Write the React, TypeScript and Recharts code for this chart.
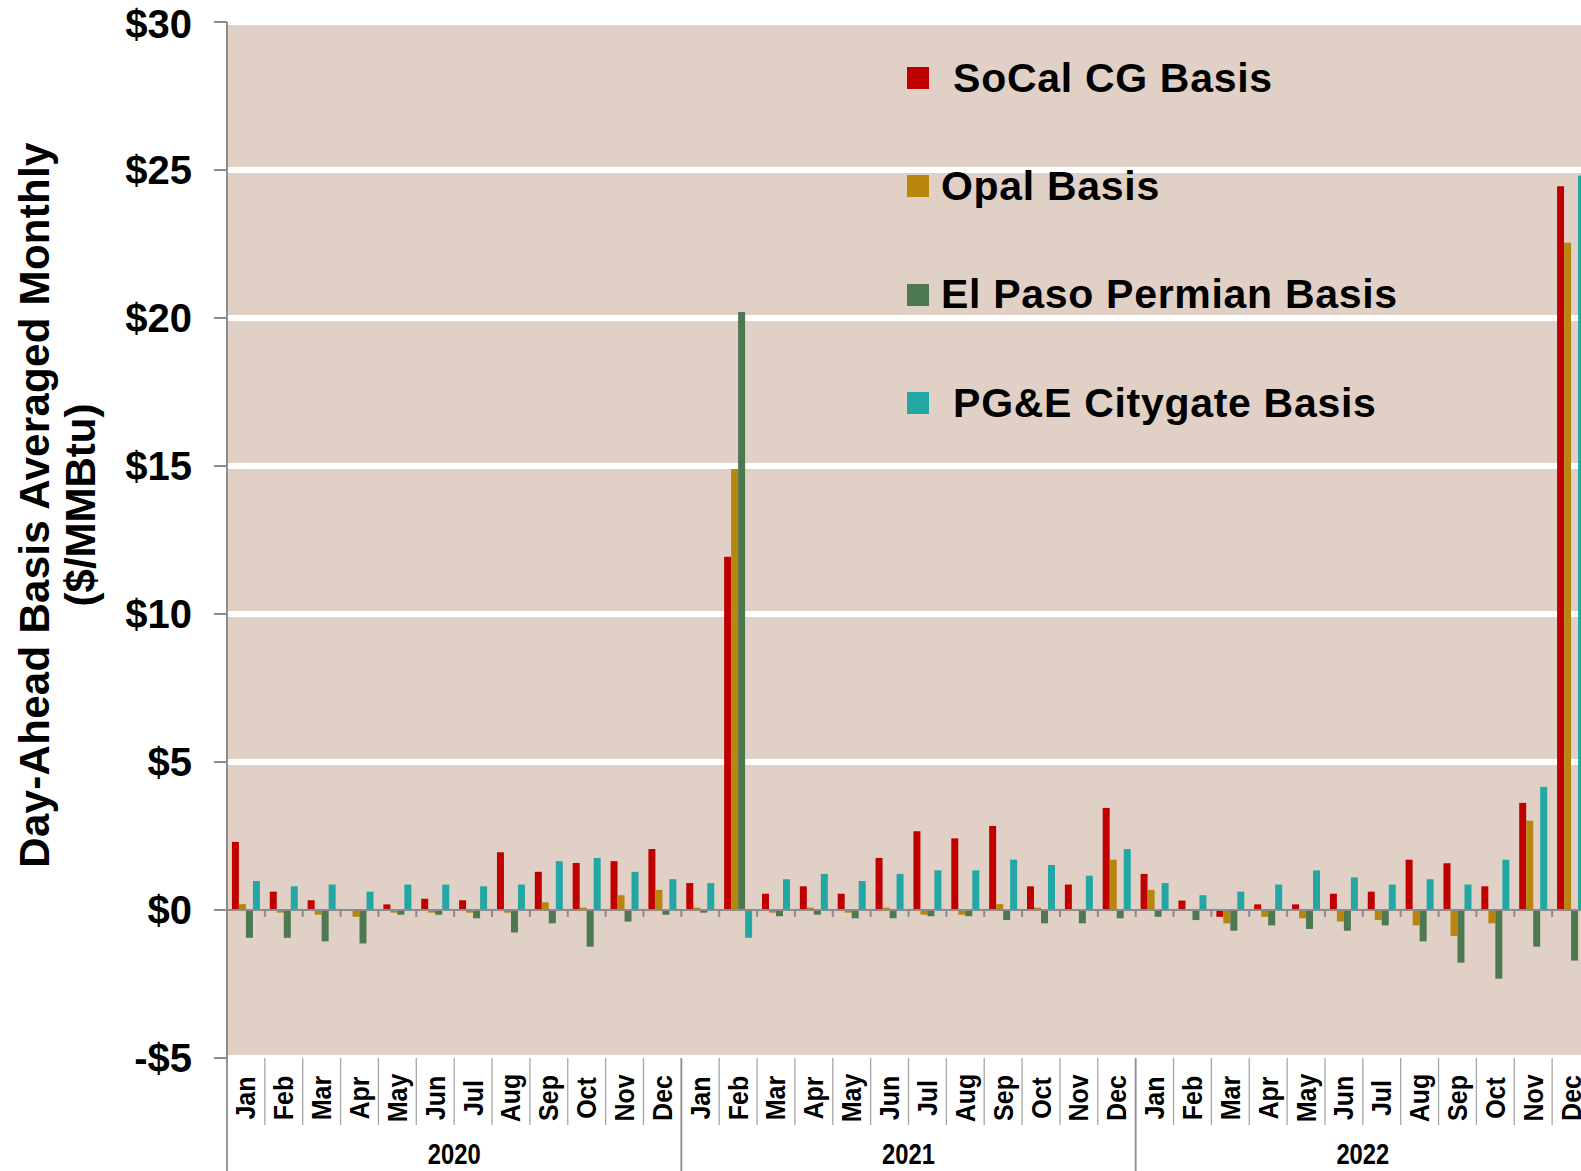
import { Bar, BarChart, CartesianGrid, Legend, ReferenceLine, XAxis, YAxis } from "recharts";

const monthNames = ["Jan", "Feb", "Mar", "Apr", "May", "Jun", "Jul", "Aug", "Sep", "Oct", "Nov", "Dec"];
const years = ["2020", "2021", "2022"];
const seriesNames = [" SoCal CG Basis", "Opal Basis", "El Paso Permian Basis", " PG&E Citygate Basis"];

// monthly averages, $/MMBtu (Jan 2020 .. Dec 2022)
const socal = [
  2.3, 0.62, 0.33, 0.03, 0.19, 0.38, 0.33, 1.95, 1.29, 1.59, 1.65, 2.06,
  0.91, 11.93, 0.55, 0.8, 0.55, 1.76, 2.66, 2.42, 2.84, 0.8, 0.86, 3.45,
  1.22, 0.32, -0.23, 0.19, 0.19, 0.55, 0.62, 1.7, 1.58, 0.8, 3.62, 24.45
];
const opal = [
  0.2, -0.09, -0.16, -0.23, -0.09, -0.09, -0.09, -0.09, 0.26, 0.08, 0.5, 0.68,
  0.08, 14.9, -0.09, 0.08, -0.09, 0.08, -0.16, -0.16, 0.2, 0.08, 0.03, 1.7,
  0.68, 0.02, -0.45, -0.23, -0.28, -0.39, -0.34, -0.52, -0.88, -0.45, 3.02, 22.54
];
const elPaso = [
  -0.94, -0.94, -1.06, -1.13, -0.16, -0.16, -0.28, -0.76, -0.45, -1.24, -0.39, -0.16,
  -0.09, 20.2, -0.21, -0.16, -0.28, -0.28, -0.21, -0.21, -0.34, -0.45, -0.45, -0.28,
  -0.23, -0.34, -0.7, -0.52, -0.64, -0.7, -0.52, -1.06, -1.78, -2.32, -1.24, -1.71
];
const pge = [
  0.98, 0.8, 0.86, 0.62, 0.86, 0.86, 0.8, 0.86, 1.65, 1.76, 1.29, 1.04,
  0.91, -0.94, 1.04, 1.22, 0.98, 1.22, 1.34, 1.34, 1.7, 1.52, 1.16, 2.06,
  0.91, 0.5, 0.62, 0.86, 1.34, 1.1, 0.86, 1.04, 0.86, 1.7, 4.16, 24.81
];

const yTicks = [-5, 0, 5, 10, 15, 20, 25, 30];

const data = years.flatMap((year, yi) =>
  monthNames.map((month, mi) => {
    const i = yi * 12 + mi;
    return { key: `${month} ${year}`, month, year, socal: socal[i], opal: opal[i], elPaso: elPaso[i], pge: pge[i] };
  })
);

const FONT = '"Liberation Sans", Arial, sans-serif';
const AXIS_GREY = "#8c8c8c";
const SEP_GREY = "#a6a6a6";
const colors = { socal: "#c00000", opal: "#b8860f", elPaso: "#4d7850", pge: "#22a7a4" };

const W = 1600;
const H = 1171;

const money = (v: number) => (v < 0 ? `-$${-v}` : `$${v}`);

function MonthTick(props: any) {
  const { x, y, payload, index } = props;
  const i = payload?.index ?? index;
  const half = payload?.offset ?? 18.9;
  const left = x - half;
  const row = data[i];
  const yearStart = i % 12 === 0;
  const last = i === data.length - 1;
  return (
    <g>
      <line x1={left} x2={left} y1={y} y2={yearStart ? y + 113 : y + 67} stroke={yearStart ? AXIS_GREY : SEP_GREY} strokeWidth={yearStart ? 1.8 : 1.3} />
      {last && <line x1={x + half} x2={x + half} y1={y} y2={y + 113} stroke={AXIS_GREY} strokeWidth={1.8} />}
      <text
        transform={`translate(${x},${y + 40}) rotate(-90) scale(1,1.12)`}
        textAnchor="middle"
        dominantBaseline="central"
        fontFamily={FONT}
        fontWeight={700}
        fontSize={25}
        fill="#000"
      >
        {row.month}
      </text>
      {yearStart && (
        <text
          transform={`translate(${left + half * 12},${y + 96}) scale(0.82,1)`}
          textAnchor="middle"
          dominantBaseline="central"
          fontFamily={FONT}
          fontWeight={700}
          fontSize={29}
          fill="#000"
        >
          {row.year}
        </text>
      )}
    </g>
  );
}

function ZeroAxis(p: any) {
  const { x1, x2, y1 } = p;
  const step = (x2 - x1) / data.length;
  return (
    <g>
      <line x1={x1} x2={x2} y1={y1} y2={y1} stroke={AXIS_GREY} strokeWidth={2} />
      {data.map((d, i) =>
        i > 0 ? <line key={d.key} x1={x1 + i * step} x2={x1 + i * step} y1={y1} y2={y1 + 7} stroke={AXIS_GREY} strokeWidth={2} /> : null
      )}
    </g>
  );
}

function YTitle(p: any) {
  const vb = p?.viewBox ?? { x: 0, y: 22, width: 227, height: 1036 };
  const cy = vb.y + vb.height / 2 - 35;
  const common = { fontFamily: FONT, fontWeight: 700, fontSize: 42, fill: "#000", textAnchor: "middle" as const, dominantBaseline: "central" as const };
  return (
    <g>
      <text transform={`translate(34,${cy}) rotate(-90)`} {...common} letterSpacing={0.3}>
        Day-Ahead Basis Averaged Monthly
      </text>
      <text transform={`translate(80,${cy}) rotate(-90)`} {...common}>
        ($/MMBtu)
      </text>
    </g>
  );
}

function LegendBox({ payload }: any) {
  const items = [...(payload ?? [])].sort((a: any, b: any) => seriesNames.indexOf(a.value) - seriesNames.indexOf(b.value));
  return (
    <div>
      {items.map((p: any) => (
        <div key={p.value} style={{ display: "flex", alignItems: "center", height: 108.3 }}>
          <span style={{ display: "inline-block", width: 22, height: 22, background: p.color, marginRight: 12 }} />
          <span style={{ fontFamily: FONT, fontWeight: 700, fontSize: 41, letterSpacing: 0.7, whiteSpace: "pre", color: "#000" }}>
            {p.value}
          </span>
        </div>
      ))}
    </div>
  );
}

export default function App() {
  return (
    <div style={{ position: "absolute", left: 0, top: 0, width: 1581, height: H, overflow: "hidden", background: "#fff" }}>
      <BarChart width={W} height={H} data={data} margin={{ top: 22, right: 10, left: 0, bottom: 0 }} barCategoryGap="13%" barGap={0}>
        <CartesianGrid vertical={false} horizontalValues={yTicks.filter((v) => v !== 0)} fill="#e0d0c6" fillOpacity={1} stroke="#ffffff" strokeWidth={6} />
        <XAxis dataKey="key" interval={0} axisLine={false} tickLine={false} tickSize={0} tickMargin={0} height={113} tick={<MonthTick />} />
        <YAxis
          domain={[-5, 30]}
          ticks={yTicks}
          width={227}
          tickFormatter={money}
          tickSize={13}
          tickMargin={22}
          axisLine={{ stroke: AXIS_GREY, strokeWidth: 2 }}
          tickLine={{ stroke: AXIS_GREY, strokeWidth: 2 }}
          tick={{ fontFamily: FONT, fontWeight: 700, fontSize: 40, fill: "#000" }}
          label={<YTitle />}
        />
        <Legend
          layout="vertical"
          align="center"
          verticalAlign="middle"
          content={<LegendBox />}
          wrapperStyle={{ position: "absolute", left: 907, top: 24, width: "auto" }}
        />
        <Bar dataKey="socal" name={seriesNames[0]} fill={colors.socal} isAnimationActive={false} />
        <Bar dataKey="opal" name={seriesNames[1]} fill={colors.opal} isAnimationActive={false} />
        <Bar dataKey="elPaso" name={seriesNames[2]} fill={colors.elPaso} isAnimationActive={false} />
        <Bar dataKey="pge" name={seriesNames[3]} fill={colors.pge} isAnimationActive={false} />
        <ReferenceLine y={0} shape={<ZeroAxis />} />
      </BarChart>
    </div>
  );
}
